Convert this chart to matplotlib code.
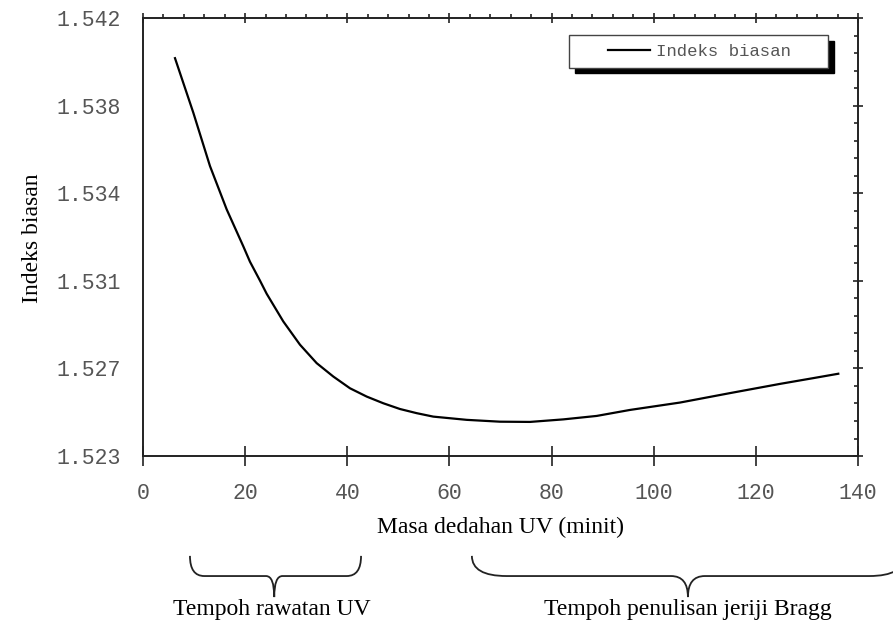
import numpy as np
import matplotlib
matplotlib.use('Agg')
import matplotlib.pyplot as plt
import matplotlib.transforms as mtransforms
from matplotlib.ticker import MultipleLocator, AutoMinorLocator
from matplotlib.legend_handler import HandlerLine2D
from matplotlib.patches import Shadow, PathPatch
from matplotlib.path import Path

# masa dedahan UV (minit) dan indeks biasan, dibaca dari graf
masa = [6.27, 9.85, 13.12, 16.39, 19.64, 20.95, 22.91, 24.22, 27.47, 30.74,
        34.01, 37.26, 40.53, 43.80, 47.05, 50.32, 53.59, 56.84, 63.38, 69.90,
        75.78, 82.30, 88.84, 95.36, 105.15, 114.94, 124.73, 131.25, 136.14]
indeks = [1.54026, 1.53790, 1.53558, 1.53370, 1.53210, 1.53143, 1.53061,
          1.53004, 1.52884, 1.52783, 1.52703, 1.52645, 1.52594, 1.52558,
          1.52529, 1.52504, 1.52486, 1.52471, 1.52457, 1.52449, 1.52448,
          1.52459, 1.52474, 1.52500, 1.52532, 1.52573, 1.52613, 1.52638,
          1.52657]

xticks = [0, 20, 40, 60, 80, 100, 120, 140]
ytick_labels = ['1.523', '1.527', '1.531', '1.534', '1.538', '1.542']
ylim = (1.523, 1.542)

# julat tempoh (minit) untuk kurungan di bawah paksi: kiri, tengah, kanan
rawatan = (9.2, 25.7, 42.7)
penulisan = (64.4, 106.7, 149.0)

mono = 'Liberation Mono'
serif = 'Liberation Serif'
grey = '#555555'
dark = '#222222'

fig = plt.figure(figsize=(8.93, 6.23), dpi=100)
ax = fig.add_axes([0.1601, 0.268, 0.8007, 0.703])

line, = ax.plot(masa, indeks, color='black', lw=1.6, label='Indeks biasan')

ax.set_xlim(0, 140)
ax.set_ylim(*ylim)
ax.set_xticks(xticks)
ax.set_xticklabels([str(v) for v in xticks], family=mono, fontsize=15.5, color=grey)
yticks = np.linspace(ylim[0], ylim[1], len(ytick_labels))
ax.set_yticks(yticks)
ax.set_yticklabels(ytick_labels, family=mono, fontsize=15.5, color=grey)

for s in ax.spines.values():
    s.set_color(dark)
    s.set_linewidth(1.4)
ax.spines['top'].set_visible(False)
ax.spines['right'].set_visible(False)

ax.tick_params(axis='x', which='major', direction='inout', length=14.4, width=1.2,
               color=dark, pad=12, top=False)
ax.tick_params(axis='y', which='major', length=0, pad=16, right=False)

# paksi atas dan kanan dengan tanda kecil
top = ax.secondary_xaxis('top')
top.set_xticks(xticks)
top.xaxis.set_minor_locator(MultipleLocator(4))
top.tick_params(which='major', direction='inout', length=7.5, width=1.2, color=dark, labeltop=False)
top.tick_params(which='minor', direction='out', length=3.2, width=1.2, color=dark)
top.spines['top'].set_color(dark)
top.spines['top'].set_linewidth(1.4)

right = ax.secondary_yaxis('right')
right.set_yticks(yticks)
right.yaxis.set_minor_locator(AutoMinorLocator(5))
right.tick_params(which='major', direction='inout', length=7.5, width=1.2, color=dark, labelright=False)
right.tick_params(which='minor', direction='in', length=3.2, width=1.2, color=dark)
right.spines['right'].set_color(dark)
right.spines['right'].set_linewidth(1.4)

ax.set_xlabel('Masa dedahan UV (minit)', family=serif, fontsize=17, va='center')
ax.xaxis.set_label_coords(0.4995, -0.162)
ax.set_ylabel('Indeks biasan', family=serif, fontsize=17, va='center')
ax.yaxis.set_label_coords(-0.154, 0.497)

leg = ax.legend(handles=[line], loc='upper left', mode='expand',
                bbox_to_anchor=(0.5958, 0.5, 0.3622, 0.4612), borderaxespad=0,
                fancybox=False, framealpha=1, edgecolor='#444444',
                prop={'family': mono, 'size': 12.5}, labelcolor=grey,
                borderpad=0.5, handlelength=4.16, handletextpad=0.34,
                handler_map={line: HandlerLine2D(xpad=1.75)})
leg.get_frame().set_linewidth(1.0)


def brace(ax, span, r, rc, y_top=-0.228, y_mid=-0.274, y_bot=-0.322):
    x0, xc, x1 = span
    verts = [(x0, y_top), (x0, y_mid), (x0 + r, y_mid),
             (xc - rc, y_mid), (xc, y_mid), (xc, y_bot),
             (xc, y_mid), (xc + rc, y_mid),
             (x1 - r, y_mid), (x1, y_mid), (x1, y_top)]
    codes = [Path.MOVETO, Path.CURVE3, Path.CURVE3, Path.LINETO,
             Path.CURVE3, Path.CURVE3, Path.CURVE3, Path.CURVE3,
             Path.LINETO, Path.CURVE3, Path.CURVE3]
    trans = mtransforms.blended_transform_factory(ax.transData, ax.transAxes)
    p = PathPatch(Path(verts, codes), fill=False, lw=1.3, edgecolor=dark,
                  transform=trans, clip_on=False)
    ax.add_artist(p)
    return trans


t = brace(ax, rawatan, 2.8, 1.6)
ax.text(rawatan[1] - 0.5, -0.350, 'Tempoh rawatan UV', transform=t, ha='center', va='center',
        family=serif, fontsize=17)
t = brace(ax, penulisan, 6.8, 3.3)
ax.text(penulisan[1], -0.350, 'Tempoh penulisan jeriji Bragg', transform=t, ha='center',
        va='center', family=serif, fontsize=17)

# bayang hitam di belakang kotak legenda
fig.canvas.draw()
sh = Shadow(leg.legendPatch, 4, -4, color='black', alpha=1)
sh.set_zorder(leg.get_zorder() - 0.1)
ax.add_artist(sh)

fig.savefig('out.png', dpi=100)
